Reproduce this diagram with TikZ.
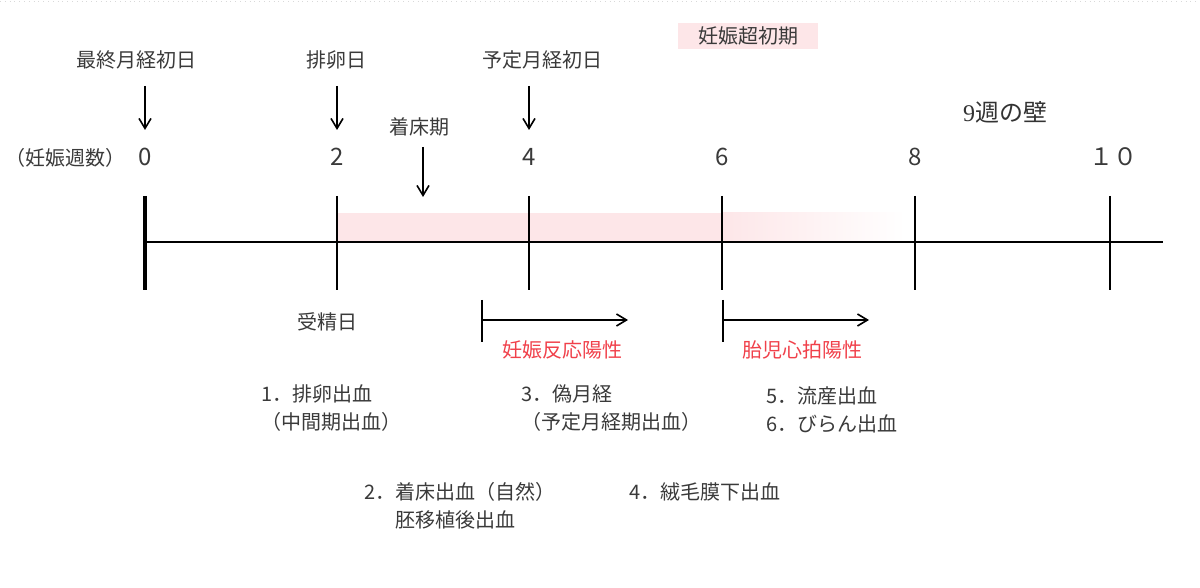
\documentclass[tikz,border=0pt]{standalone}
\usepackage{fontspec}
\setmainfont{Noto Sans CJK JP}
\newfontfamily\serifnum{Liberation Serif}
\usetikzlibrary{positioning, arrows.meta}
\definecolor{bandpink}{HTML}{FDE6E8}
\definecolor{posred}{HTML}{F0404A}
\definecolor{txtgray}{HTML}{3A3A3A}

\begin{document}
\begin{tikzpicture}[
    x=0.5pt, y=-0.5pt,
    node distance=3pt and 6pt,
    lbl/.style={font=\fontsize{10}{14}\selectfont, text=txtgray, inner sep=1pt},
    num/.style={font=\fontsize{12}{14}\selectfont, text=txtgray, inner sep=1pt},
    redlbl/.style={lbl, text=posred},
    item/.style={lbl, align=left, anchor=north west},
    arrow/.style={-{Straight Barb[length=5pt, width=6pt]}, line width=0.8pt},
    weekline/.style={line width=0.9pt}
]
    \useasboundingbox (0,0) rectangle (1200,588);
    \draw[gray!30, dotted] (0,1) -- (1200,1);

    % BAND
    \fill[bandpink] (337,213) rectangle (722,242);
    \shade[left color=bandpink, right color=white] (722,213) rectangle (905,242);
    \node[lbl, fill=bandpink, minimum width=70pt, minimum height=13pt] (early) at (748,36) {妊娠超初期};

    % AXIS
    \draw[weekline] (145,242) -- (1163,242);
    \draw[line width=2pt] (145,196) -- (145,290);
    \foreach \x in {337, 529, 722, 915, 1110}
        \draw[weekline] (\x,196) -- (\x,290);

    % WEEKS
    \node[lbl] (weeks) at (65,158) {（妊娠週数）};
    \foreach \w/\x in {0/145, 2/337, 4/529, 6/722, 8/915}
        \node[num] (w\w) at (\x,157) {\w};
    \node[num] (w10) at (1113,157) {１０};
    \node[num, text=black!80] (wall) at (1005,112) {{\serifnum 9}週の壁};

    % TOP EVENTS
    \node[lbl] (lmp) at (136,60) {最終月経初日};
    \node[lbl] (ovul) at (336,60) {排卵日};
    \node[lbl] (nextmp) at (542,60) {予定月経初日};
    \node[lbl] (implant) at (419,127) {着床期};

    \coordinate (lmp_top) at (145,86);   \coordinate (lmp_end) at (145,130);
    \coordinate (ovul_top) at (337,86);  \coordinate (ovul_end) at (337,130);
    \coordinate (next_top) at (529,86);  \coordinate (next_end) at (529,130);
    \coordinate (impl_top) at (423,147); \coordinate (impl_end) at (423,197);

    \draw[arrow] (lmp_top) -- (lmp_end);
    \draw[arrow] (ovul_top) -- (ovul_end);
    \draw[arrow] (next_top) -- (next_end);
    \draw[arrow] (impl_top) -- (impl_end);

    % BELOW AXIS
    \node[lbl] (fert) at (327,322) {受精日};

    \coordinate (hcg_a) at (482,300); \coordinate (hcg_b) at (482,342);
    \coordinate (hcg_s) at (482,320); \coordinate (hcg_e) at (628,320);
    \draw[weekline] (hcg_a) -- (hcg_b);
    \draw[arrow] (hcg_s) -- (hcg_e);
    \node[redlbl] (hcg) at (562,350) {妊娠反応陽性};

    \coordinate (fhb_a) at (723,300); \coordinate (fhb_b) at (723,342);
    \coordinate (fhb_s) at (723,320); \coordinate (fhb_e) at (869,320);
    \draw[weekline] (fhb_a) -- (fhb_b);
    \draw[arrow] (fhb_s) -- (fhb_e);
    \node[redlbl] (fhb) at (802,350) {胎児心拍陽性};

    % BLEEDING
    \node[item] (b1) at (259,382) {1．排卵出血\\（中間期出血）};
    \node[item] (b3) at (519,382) {3．偽月経\\（予定月経期出血）};
    \node[item] (b5) at (764,384) {5．流産出血\\6．びらん出血};
    \node[item] (b2) at (362,480) {2．着床出血（自然）\\\phantom{2．}胚移植後出血};
    \node[item] (b4) at (627,480) {4．絨毛膜下出血};

\end{tikzpicture}
\end{document}
